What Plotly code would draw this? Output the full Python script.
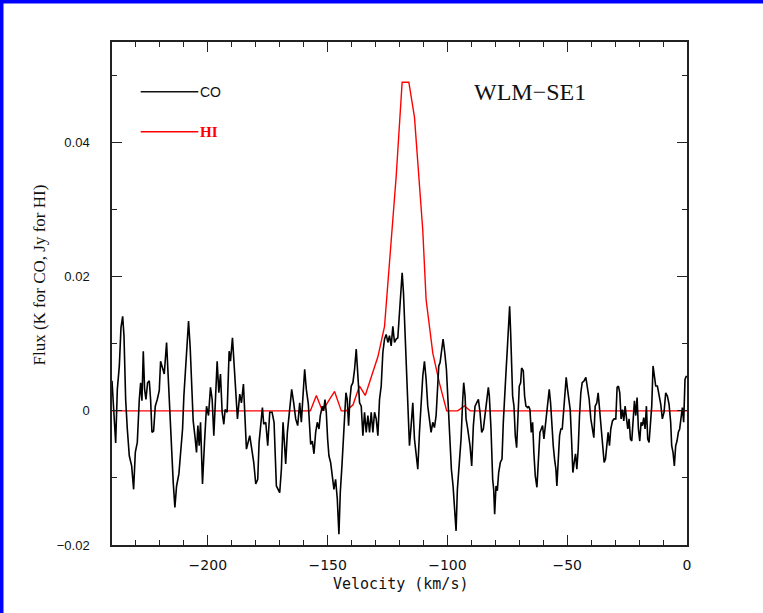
import plotly.graph_objects as go

# ---------------- data ----------------
co_velocity = [
    -240.0, -239.17, -238.47, -237.78, -236.94, -236.25, -235.55, -235.0, -234.3, -233.61,
    -232.78, -231.8, -230.97, -230.27, -229.44, -228.61, -228.05, -227.5, -226.94, -226.39,
    -225.83, -225.14, -224.44, -223.89, -223.33, -222.64, -221.94, -221.11, -220.28, -219.72,
    -218.89, -218.19, -217.22, -216.53, -215.83, -215.14, -214.44, -213.75, -213.05, -212.08,
    -211.25, -210.55, -210.0, -209.3, -208.61, -208.05, -207.36, -206.66, -206.11, -205.41,
    -204.72, -204.16, -203.61, -203.05, -202.22, -201.39, -200.55, -199.72, -198.89, -198.19,
    -197.5, -196.94, -196.11, -195.41, -194.72, -194.03, -193.33, -192.78, -191.94, -191.11,
    -190.55, -189.72, -189.03, -188.33, -187.64, -186.67, -185.97, -185.14, -184.44, -183.89,
    -183.05, -182.5, -181.66, -180.83, -180.0, -179.17, -178.61, -177.92, -177.22, -176.67,
    -175.83, -175.0, -174.16, -173.19, -172.36, -171.39, -170.55, -170.0, -169.3, -168.61,
    -168.05, -167.5, -166.8, -165.83, -165.0, -164.16, -163.33, -162.5, -161.66, -160.97,
    -160.28, -159.58, -158.89, -158.05,
    -157.78, -157.08, -156.39, -155.7, -155.0, -154.31, -153.61, -153.06, -152.22, -151.67,
    -151.11, -150.56, -150.0, -149.45, -148.75, -148.06, -147.36, -146.67, -145.97, -145.28,
    -144.72, -144.03, -143.47, -142.92, -142.36, -141.81, -141.25, -140.7, -140.14, -139.45,
    -138.75, -138.06, -137.36, -136.67, -135.97, -135.28, -134.59, -133.89, -133.2, -132.5,
    -131.81, -131.11, -130.42, -129.72, -129.03, -128.34, -127.64, -126.95, -126.25, -125.56,
    -124.86, -124.17, -123.47, -122.78, -122.09, -121.39, -120.7, -120.0, -119.31, -118.89,
    -118.34, -117.78, -117.22, -116.53, -115.84, -115.14, -114.45, -113.75, -113.06, -112.36,
    -111.67, -110.98, -110.28, -109.59, -108.89, -108.2, -107.5, -106.81, -106.11, -105.42,
    -104.72, -104.17, -103.61, -103.06, -102.36, -101.81, -101.11, -100.42, -99.72, -99.03,
    -98.34, -97.64, -96.95, -96.39, -95.84, -95.0, -94.31, -93.61, -93.2, -92.64,
    -92.22, -91.53, -90.56, -89.86, -89.17, -88.47, -87.78, -87.08, -86.39, -85.7,
    -85.0, -84.31, -83.61, -82.92,
    -82.5, -81.81, -81.11, -80.69, -80.28, -79.72, -79.17, -78.61, -77.92, -77.22,
    -76.67, -76.11, -75.56, -75.0, -74.44, -74.03, -73.61, -73.19, -72.78, -72.22,
    -71.67, -71.11, -70.56, -70.0, -69.44, -69.03, -68.33, -67.78, -67.22, -66.53,
    -66.11, -65.56, -65.0, -64.44, -63.89, -63.33, -62.64, -61.94, -61.39, -60.83,
    -60.28, -59.72, -59.17, -58.61, -58.06, -57.5, -56.94, -56.39, -55.83, -55.28,
    -54.72, -54.31, -53.75, -53.19, -52.64, -52.08, -51.53, -50.97, -50.42, -49.86,
    -49.31, -48.75, -48.19, -47.64, -47.08, -46.53, -45.97, -45.42, -44.86, -44.31,
    -43.75, -42.92, -42.22, -41.53, -40.83, -40.14, -39.44, -38.89, -38.33, -37.64,
    -37.08, -36.53, -35.97, -35.28, -34.58, -34.03, -33.47, -32.92, -32.36, -31.81,
    -31.11, -30.42, -29.72, -29.17, -28.61, -28.06, -27.5, -26.94, -26.39, -25.83,
    -25.28, -24.72, -24.17, -23.61, -23.06, -22.5, -21.94, -21.39, -20.83, -20.28,
    -19.72, -19.17, -18.61, -18.06, -17.5, -16.94, -16.39, -15.83, -15.28, -14.72,
    -14.17, -13.61, -13.06, -12.36, -11.67, -10.97, -10.28, -9.58, -8.89, -8.19,
    -7.5, -6.81, -6.39, -5.83, -5.28, -4.72, -4.17, -3.61, -3.06, -2.5,
    -1.94, -1.39, -0.83, -0.28, 0.0,
]
co_flux = [
    0.0045, -0.0017, -0.0048, 0.0032, 0.0067, 0.0124, 0.0141, 0.0112, 0.0017, -0.0027,
    -0.0067, -0.0082, -0.0117, -0.0062, -0.0047, 0.0017, 0.0042, 0.0015, 0.0089, 0.0032,
    0.0017, 0.0042, 0.0045, 0.0017, -0.0032, -0.0030, 0.0007, 0.0017, 0.0030, 0.0074,
    0.0062, 0.0055, 0.0102, 0.0047, -0.0002, -0.0050, -0.0107, -0.0144, -0.0112, -0.0094,
    -0.0052, -0.0027, 0.0022, 0.0057, 0.0102, 0.0134, 0.0094, 0.0027, -0.0015, -0.0037,
    -0.0062, -0.0022, -0.0052, -0.0017, -0.0109, -0.0047, 0.0007, -0.0007, 0.0035, 0.0017,
    -0.0037, 0.0007, 0.0074, 0.0027, 0.0055, -0.0002, -0.0020, 0.0002, -0.0002, 0.0089,
    0.0074, 0.0109, 0.0067, 0.0027, -0.0012, 0.0025, 0.0012, 0.0040, -0.0005, -0.0057,
    -0.0045, -0.0037, -0.0057, -0.0077, -0.0109, -0.0102, -0.0047, -0.0015, 0.0005, -0.0020,
    -0.0017, -0.0052, -0.0002, -0.0002, -0.0017, -0.0112, -0.0117, -0.0122, -0.0087, -0.0017,
    -0.0047, -0.0079, -0.0032, 0.0007, 0.0032, 0.0012, -0.0012, -0.0022, 0.0012, -0.0017,
    0.0017, 0.0062, 0.0032, 0.0010,
    -0.0007, -0.0050, -0.0045, -0.0064, -0.0032, -0.0017, -0.0027, -0.0007, 0.0007, 0.0000,
    0.0017, -0.0002, -0.0042, -0.0067, -0.0077, -0.0097, -0.0117, -0.0102, -0.0131, -0.0184,
    -0.0122, -0.0082, -0.0042, -0.0007, 0.0027, 0.0017, -0.0022, 0.0017, 0.0037, 0.0042,
    0.0062, 0.0092, 0.0052, 0.0012, 0.0007, -0.0037, -0.0002, -0.0032, -0.0007, -0.0032,
    -0.0002, -0.0032, -0.0002, -0.0012, -0.0037, 0.0017, 0.0037, 0.0087, 0.0107, 0.0114,
    0.0102, 0.0112, 0.0097, 0.0126, 0.0102, 0.0107, 0.0109, 0.0151, 0.0196, 0.0206,
    0.0176, 0.0126, 0.0062, 0.0027, -0.0052, -0.0022, 0.0012, -0.0042, -0.0067, -0.0087,
    -0.0032, 0.0017, 0.0052, 0.0074, 0.0047, 0.0007, -0.0017, -0.0032, -0.0017, -0.0025,
    -0.0007, 0.0037, 0.0067, 0.0072, 0.0092, 0.0107, 0.0087, 0.0062, 0.0012, -0.0042,
    -0.0087, -0.0112, -0.0156, -0.0179, -0.0117, -0.0072, -0.0042, 0.0017, 0.0042, 0.0022,
    -0.0012, -0.0027, -0.0052, -0.0082, -0.0022, 0.0007, 0.0012, 0.0017, -0.0002, -0.0032,
    -0.0027, -0.0007, 0.0007, 0.0035,
    0.0022, -0.0027, -0.0102, -0.0117, -0.0154, -0.0112, -0.0119, -0.0092, -0.0077, -0.0072,
    -0.0017, 0.0032, 0.0057, 0.0092, 0.0126, 0.0156, 0.0117, 0.0062, 0.0022, 0.0007,
    -0.0037, -0.0055, -0.0007, 0.0037, 0.0042, 0.0064, 0.0060, 0.0022, 0.0007, 0.0005,
    0.0007, 0.0002, -0.0032, -0.0017, -0.0064, -0.0097, -0.0114, -0.0077, -0.0032, -0.0027,
    -0.0022, -0.0042, -0.0022, -0.0002, 0.0017, 0.0032, 0.0012, -0.0027, -0.0052, -0.0072,
    -0.0087, -0.0112, -0.0082, -0.0037, -0.0027, -0.0027, -0.0002, 0.0032, 0.0050, 0.0032,
    0.0012, 0.0002, -0.0042, -0.0092, -0.0077, -0.0064, -0.0087, -0.0057, -0.0007, 0.0027,
    0.0042, 0.0045, 0.0050, 0.0032, 0.0017, -0.0012, -0.0027, -0.0040, 0.0007, 0.0012,
    0.0027, 0.0005, -0.0017, -0.0047, -0.0077, -0.0072, -0.0052, -0.0032, -0.0052, -0.0027,
    -0.0015, -0.0012, -0.0012, 0.0035, 0.0037, 0.0027, -0.0012, 0.0002, -0.0015, 0.0007,
    -0.0010, -0.0027, -0.0012, -0.0042, -0.0045, -0.0012, 0.0015, -0.0007, 0.0020, -0.0027,
    -0.0045, -0.0017, -0.0022, -0.0010, -0.0027, 0.0007, -0.0042, -0.0047, -0.0022, 0.0007,
    0.0067, 0.0055, 0.0037, 0.0037, 0.0022, 0.0010, -0.0012, -0.0002, 0.0027, 0.0022,
    0.0010, -0.0017, -0.0052, -0.0062, -0.0082, -0.0052, -0.0045, -0.0032, -0.0027, -0.0007,
    0.0005, -0.0017, 0.0047, 0.0052, 0.0050,
]

hi_velocity = [
    -240.0, -157.2, -154.7, -152.2, -147.1, -144.3, -142.2, -139.4, -136.7, -134.3,
    -129.0, -126.25, -121.4, -118.9, -116.1, -113.75, -110.3, -108.9, -106.1, -103.3,
    -100.3, -95.7, -92.9, -90.5, 0.0,
]
hi_flux = [
    0.0, 0.0, 0.0023, 0.0, 0.0029, 0.0, 0.0, 0.0009, 0.0037, 0.0023,
    0.0081, 0.0126, 0.0349, 0.049, 0.049, 0.0438, 0.027, 0.0166, 0.0086, 0.0041,
    0.0, 0.0, 0.00075, 0.0, 0.0,
]

x_tick_values = [-200, -150, -100, -50, 0]
x_tick_labels = ["\u2212200", "\u2212150", "\u2212100", "\u221250", "0"]
y_tick_values = [-0.02, 0.0, 0.02, 0.04]
y_tick_labels = ["\u22120.02", "0", "0.02", "0.04"]

# ---------------- figure ----------------
fig = go.Figure()
fig.add_trace(go.Scatter(x=hi_velocity, y=hi_flux, mode="lines",
                         line=dict(color="#ff0000", width=1.4), name="HI",
                         showlegend=False))
fig.add_trace(go.Scatter(x=co_velocity, y=co_flux, mode="lines",
                         line=dict(color="#000000", width=1.6), name="CO",
                         showlegend=False))

axis_common = dict(
    showgrid=False, zeroline=False, showline=True, linecolor="#222222", linewidth=1.5,
    mirror="ticks", ticks="inside", tickcolor="#222222", tickwidth=1.3, ticklen=10,
)
fig.update_xaxes(
    range=[-240, 0], tickvals=x_tick_values, ticktext=x_tick_labels,
    tickfont=dict(family="DejaVu Sans", size=14, color="#111111"),
    ticklabelstandoff=6,
    minor=dict(dtick=10, tick0=0, ticks="inside", ticklen=5, tickcolor="#222222", tickwidth=1.2),
    **axis_common,
)
fig.update_yaxes(
    range=[-0.02, 0.055], tickvals=y_tick_values, ticktext=y_tick_labels,
    tickfont=dict(family="Liberation Sans", size=13, color="#111111"),
    ticklabelstandoff=18,
    minor=dict(dtick=0.01, tick0=0, ticks="inside", ticklen=5, tickcolor="#222222", tickwidth=1.2),
    **axis_common,
)

W, H = 763, 613
L, R, T, B = 112, 76, 42, 68
pw, ph = W - L - R, H - T - B


def px(xp):
    return (xp - L) / pw


def py(yp):
    return (H - B - yp) / ph


annotations = [
    dict(text="Velocity (km/s)", x=px(400), y=py(584), xref="paper", yref="paper",
         showarrow=False, xanchor="center", yanchor="middle",
         font=dict(family="DejaVu Sans Mono", size=15, color="#111111")),
    dict(text="Flux (K for CO, Jy for HI)", x=px(38.5), y=py(275), xref="paper", yref="paper",
         showarrow=False, xanchor="center", yanchor="middle", textangle=-90,
         font=dict(family="Liberation Serif", size=17, color="#111111")),
    dict(text="WLM\u2212SE1", x=px(530), y=py(92), xref="paper", yref="paper",
         showarrow=False, xanchor="center", yanchor="middle",
         font=dict(family="Liberation Serif", size=24, color="#111111")),
    dict(text="CO", x=px(198), y=py(92), xref="paper", yref="paper",
         showarrow=False, xanchor="left", yanchor="middle",
         font=dict(family="Liberation Sans", size=14, color="#111111")),
    dict(text="<b>HI</b>", x=px(198), y=py(132), xref="paper", yref="paper",
         showarrow=False, xanchor="left", yanchor="middle",
         font=dict(family="Liberation Serif", size=15, color="#ff0000")),
]

shapes = [
    dict(type="line", xref="paper", yref="paper", x0=px(140.7), x1=px(198.3),
         y0=py(91.7), y1=py(91.7), line=dict(color="#111111", width=1.4)),
    dict(type="line", xref="paper", yref="paper", x0=px(140.7), x1=px(198.3),
         y0=py(131.7), y1=py(131.7), line=dict(color="#ff0000", width=1.4)),
    # blue frame of the picture (top and left edges)
    dict(type="rect", xref="paper", yref="paper", x0=px(0), x1=px(W),
         y0=py(0), y1=py(3.5), fillcolor="#0000ff", line=dict(width=0)),
    dict(type="rect", xref="paper", yref="paper", x0=px(0), x1=px(3.5),
         y0=py(0), y1=py(H), fillcolor="#0000ff", line=dict(width=0)),
]

fig.update_layout(
    width=W, height=H,
    margin=dict(l=L, r=R, t=T, b=B, pad=0),
    paper_bgcolor="white", plot_bgcolor="white",
    showlegend=False,
    annotations=annotations, shapes=shapes,
)

fig.write_html("out.html")
